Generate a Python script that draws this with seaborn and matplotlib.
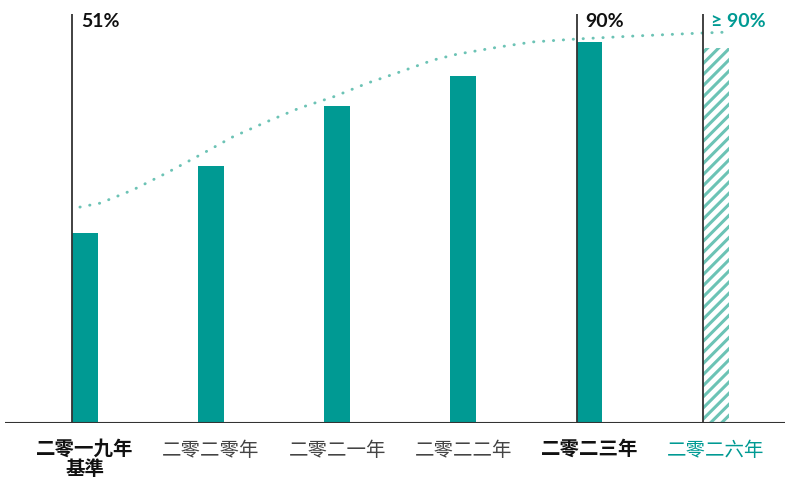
import numpy as np
import pandas as pd
import seaborn as sns
import matplotlib.pyplot as plt

years = ['二零一九年\n基準', '二零二零年', '二零二一年', '二零二二年', '二零二三年', '二零二六年']
values = [51, 64.7, 76.9, 83.1, 90, 88.8]

# trend line (x in category units)
trend_x = [-0.04, 0.12, 0.38, 0.65, 0.91, 1.17, 1.44, 1.70, 1.97, 2.24, 2.50,
           2.76, 2.95, 3.29, 3.55, 3.90, 4.35, 4.88, 5.09]
trend_y = [56.3, 57.1, 59.8, 63.3, 66.9, 70.6, 73.7, 76.5, 78.8, 81.6, 83.9,
           86.3, 87.5, 89.0, 90.0, 90.6, 91.2, 91.8, 92.0]

marked = [0, 4, 5]
marked_labels = ['51%', '90%', '≥ 90%']

TEAL = '#009A93'
LIGHT_TEAL = '#6CC3B5'

sns.set_theme(style='white')
plt.rcParams['font.family'] = ['Lato', 'Noto Sans CJK TC', 'DejaVu Sans']
plt.rcParams['hatch.linewidth'] = 2.2

fig = plt.figure(figsize=(7.92, 4.83), dpi=100)
ax = fig.add_axes([5 / 792, 60 / 483, 780 / 792, 409 / 483])

df = pd.DataFrame({'year': years, 'value': values})
bw = 0.206
sns.barplot(data=df, x='year', y='value', color=TEAL, saturation=1,
            width=bw, ax=ax, linewidth=0)

last = ax.patches[5]
last.set_facecolor('white')
last.set_edgecolor(LIGHT_TEAL)
last.set_hatch('///')
last.set_linewidth(0)

sns.lineplot(x=trend_x, y=trend_y, ax=ax, color=LIGHT_TEAL, linewidth=2.1,
             linestyle=(0, (0.1, 3.3)))
ax.get_lines()[-1].set_dash_capstyle('round')

ymin, ymax = 12.24, 95.7
ax.set_xlim(-0.634, 5.55)
ax.set_ylim(ymin, ymax)

for i, lab in zip(marked, marked_labels):
    ax.plot([i - bw / 2, i - bw / 2], [ymin, ymax], color='#333333', lw=1.3,
            zorder=4)
    col = TEAL if i == 5 else '#111111'
    ax.text(i - bw / 2 + 0.07, 94.1, lab, ha='left', va='center',
            fontsize=14, fontweight='bold', color=col)

ax.axhline(ymin, color='#333333', lw=1.5, zorder=5)

for s in ax.spines.values():
    s.set_visible(False)
ax.set_yticks([])
ax.set_xlabel('')
ax.set_ylabel('')
ax.tick_params(axis='x', length=0, pad=12)

styles = [
    ('bold', '#111111'),
    ('light', '#444444'),
    ('light', '#444444'),
    ('light', '#444444'),
    ('bold', '#111111'),
    ('normal', TEAL),
]
for t, (w, c) in zip(ax.get_xticklabels(), styles):
    t.set_family(['Noto Sans CJK TC', 'DejaVu Sans'])
    t.set_fontsize(14)
    t.set_fontweight(w)
    t.set_color(c)
    t.set_linespacing(1.1)

plt.savefig('out.png', dpi=100)
